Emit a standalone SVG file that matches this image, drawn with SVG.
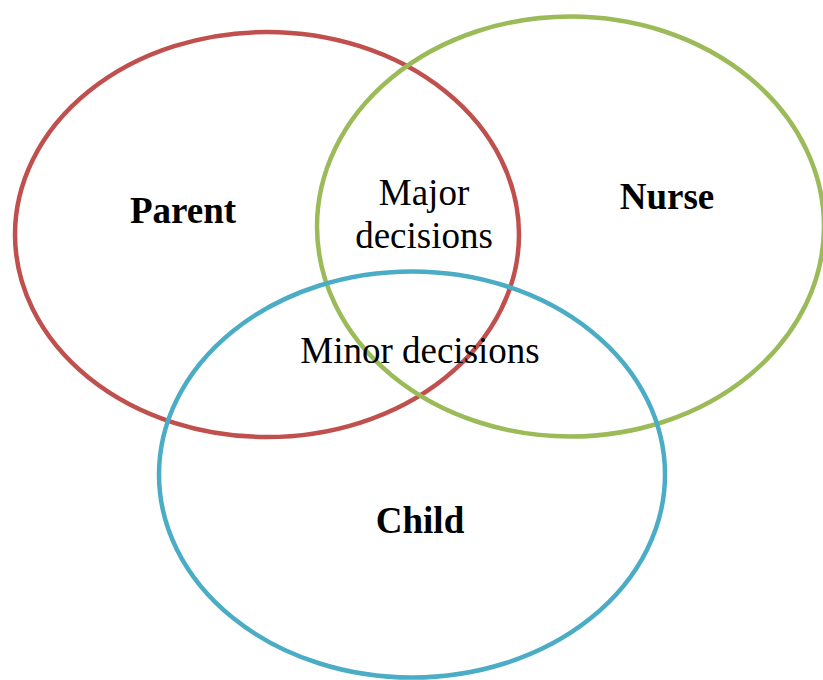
<svg xmlns="http://www.w3.org/2000/svg" width="823" height="680" viewBox="0 0 823 680">
  <style>
    .ring { fill: none; stroke-width: 4.5; }
    .label { font-family: "Liberation Serif", "Times New Roman", serif; font-size: 37px; fill: #000; text-anchor: middle; }
    .title { font-weight: bold; }
  </style>
  <rect width="823" height="680" fill="#fff"/>
  <g id="parent">
    <ellipse class="ring" cx="267" cy="234.5" rx="252" ry="202.5" stroke="#C0504D"/>
    <text class="label title" x="183" y="223">Parent</text>
  </g>
  <g id="nurse">
    <ellipse class="ring" cx="570.5" cy="226.5" rx="253.5" ry="210" stroke="#9BBB59"/>
    <text class="label title" x="667" y="209">Nurse</text>
  </g>
  <g id="child">
    <ellipse class="ring" cx="412" cy="474.5" rx="253" ry="203" stroke="#4BACC6"/>
    <text class="label title" x="420" y="533">Child</text>
  </g>
  <g id="overlaps">
    <text class="label" x="424" y="205">Major</text>
    <text class="label" x="424" y="248">decisions</text>
    <text class="label" x="420" y="363">Minor decisions</text>
  </g>
  <g id="connectors"/>
</svg>
